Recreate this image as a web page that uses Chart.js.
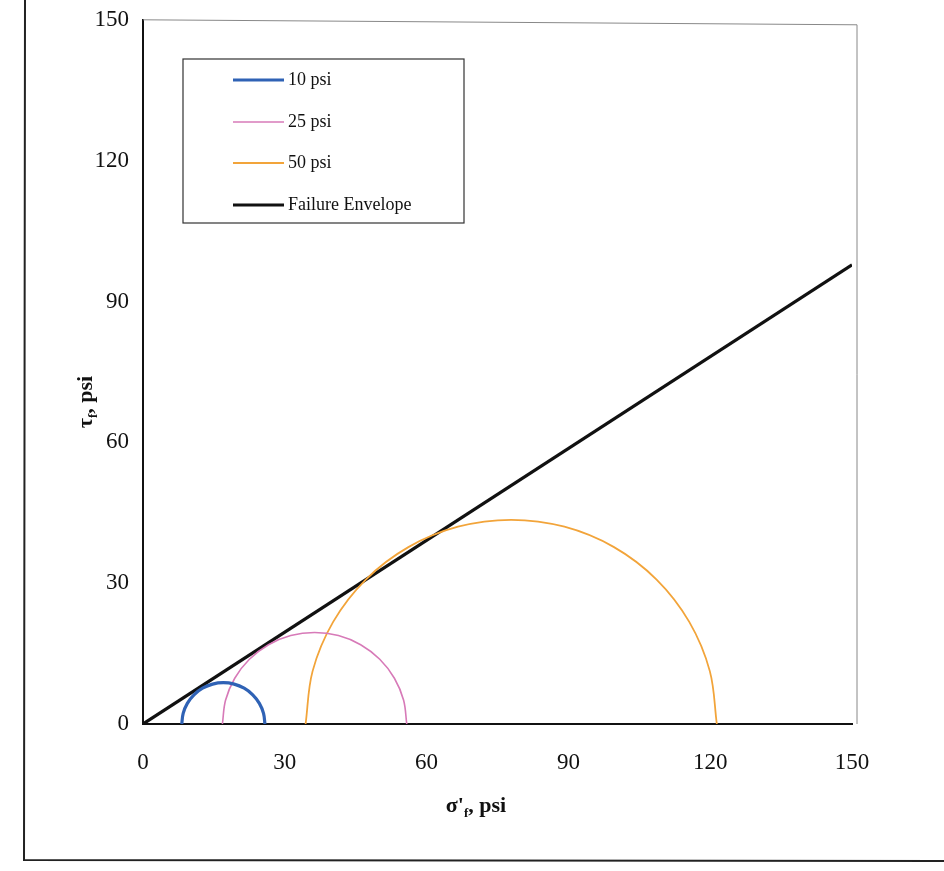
<!DOCTYPE html>
<html>
<head>
<meta charset="utf-8">
<script src="https://cdn.jsdelivr.net/npm/chart.js@4.4.1/dist/chart.umd.min.js"></script>
<style>
  html, body { margin: 0; padding: 0; background: #fff; }
  #wrap { width: 944px; height: 871px; position: relative; }
</style>
</head>
<body>
<div id="wrap"><canvas id="mohr"></canvas></div>
<script>
// Mohr circles (sigma', tau) in psi
const c10x = [8.2, 8.5, 9.38, 10.78, 12.6, 14.72, 17.0, 19.28, 21.4, 23.22, 24.62, 25.5, 25.8];
const c10y = [0, 2.28, 4.40, 6.22, 7.62, 8.50, 8.8, 8.50, 7.62, 6.22, 4.40, 2.28, 0];

const c25x = [16.8, 17.46, 19.41, 22.51, 26.55, 31.25, 36.3, 41.35, 46.05, 50.09, 53.19, 55.14, 55.8];
const c25y = [0, 5.05, 9.75, 13.79, 16.89, 18.84, 19.5, 18.84, 16.89, 13.79, 9.75, 5.05, 0];

const c50x = [34.4, 35.88, 40.23, 47.14, 56.15, 66.64, 77.9, 89.16, 99.65, 108.66, 115.57, 119.92, 121.4];
const c50y = [0, 11.26, 21.75, 30.76, 37.67, 42.02, 43.5, 42.02, 37.67, 30.76, 21.75, 11.26, 0];

// failure envelope
const envX = [0, 150];
const envY = [0, 97.8];

const seriesNames = ['10 psi', '25 psi', '50 psi', 'Failure Envelope'];
const tickVals = [0, 30, 60, 90, 120, 150];

function pts(xs, ys) {
    return xs.map((x, i) => ({ x: x, y: ys[i] }));
}

const SERIF = '"Liberation Serif", "DejaVu Serif", serif';

// 테두리, 축제목, 범례 그리기
const decorPlugin = {
    id: 'decor',
    afterDraw(chart) {
        const ctx = chart.ctx;
        const a = chart.chartArea;
        ctx.save();

        // scanned page frame
        ctx.strokeStyle = '#222';
        ctx.lineWidth = 2;
        ctx.beginPath();
        ctx.moveTo(25, 0);
        ctx.lineTo(24, 860);
        ctx.lineTo(944, 861);
        ctx.stroke();

        // plot area top/right border (grey)
        ctx.strokeStyle = '#888';
        ctx.lineWidth = 1;
        ctx.beginPath();
        ctx.moveTo(a.left, a.top);
        ctx.lineTo(a.right + 5, a.top + 5);
        ctx.lineTo(a.right + 5, a.bottom);
        ctx.stroke();

        // axis titles with subscript f
        ctx.fillStyle = '#111';
        ctx.textBaseline = 'alphabetic';
        const big = 'bold 22px ' + SERIF;
        const small = 'bold 13px ' + SERIF;
        // x title
        const xa = "σ'", xb = ', psi';
        ctx.font = big; const wa = ctx.measureText(xa).width;
        ctx.font = small; const wf = ctx.measureText('f').width;
        ctx.font = big; const wb = ctx.measureText(xb).width;
        let x0 = 476 - (wa + wf + wb) / 2;
        const yb = 812;
        ctx.textAlign = 'left';
        ctx.fillText(xa, x0, yb);
        ctx.font = small; ctx.fillText('f', x0 + wa, yb + 5);
        ctx.font = big; ctx.fillText(xb, x0 + wa + wf, yb);

        // y title (rotated)
        ctx.save();
        ctx.translate(92, 402);
        ctx.rotate(-Math.PI / 2);
        const ya = 'τ', ybT = ', psi';
        ctx.font = big; const ha = ctx.measureText(ya).width;
        ctx.font = small; const hf = ctx.measureText('f').width;
        ctx.font = big; const hb = ctx.measureText(ybT).width;
        x0 = -(ha + hf + hb) / 2;
        ctx.fillText(ya, x0, 0);
        ctx.font = small; ctx.fillText('f', x0 + ha, 5);
        ctx.font = big; ctx.fillText(ybT, x0 + ha + hf, 0);
        ctx.restore();

        // legend box
        const lx = 183, ly = 59, lw = 281, lh = 164;
        ctx.strokeStyle = '#333';
        ctx.lineWidth = 1.2;
        ctx.strokeRect(lx, ly, lw, lh);
        const rowsY = [80, 122, 163, 205];
        chart.data.datasets.forEach((ds, i) => {
            ctx.strokeStyle = ds.borderColor;
            ctx.lineWidth = ds.borderWidth;
            ctx.beginPath();
            ctx.moveTo(233, rowsY[i]);
            ctx.lineTo(284, rowsY[i]);
            ctx.stroke();
            ctx.fillStyle = '#111';
            ctx.font = '18px ' + SERIF;
            ctx.textBaseline = 'middle';
            ctx.fillText(ds.label, 288, rowsY[i]);
        });
        ctx.restore();
    }
};

new Chart(document.getElementById('mohr'), {
    type: 'scatter',
    data: {
        datasets: [
            { label: seriesNames[0], data: pts(c10x, c10y), borderColor: '#2f62b5', borderWidth: 3.2 },
            { label: seriesNames[1], data: pts(c25x, c25y), borderColor: '#d77ab8', borderWidth: 1.6 },
            { label: seriesNames[2], data: pts(c50x, c50y), borderColor: '#f2a43a', borderWidth: 1.8 },
            { label: seriesNames[3], data: pts(envX, envY), borderColor: '#111111', borderWidth: 3.2, tension: 0 }
        ].map(d => Object.assign({ showLine: true, pointRadius: 0, tension: 0.35, fill: false }, d))
    },
    options: {
        responsive: true,
        maintainAspectRatio: false,
        animation: false,
        layout: { padding: { left: 0, top: 16, right: 92, bottom: 87 } },
        plugins: {
            legend: { display: false },
            tooltip: { enabled: false }
        },
        scales: {
            x: {
                type: 'linear',
                min: 0, max: 150,
                afterBuildTicks: (s) => { s.ticks = tickVals.map(v => ({ value: v })); },
                afterFit: (s) => { s.height = 60; },
                grid: { display: false, drawTicks: true, tickLength: 8 },
                border: { color: '#111', width: 2 },
                ticks: { color: '#111', padding: 17, font: { family: SERIF, size: 23 }, maxRotation: 0 }
            },
            y: {
                type: 'linear',
                min: 0, max: 150,
                afterBuildTicks: (s) => { s.ticks = tickVals.map(v => ({ value: v })); },
                afterFit: (s) => { s.width = 143; },
                grid: { display: false, drawTicks: true, tickLength: 8 },
                border: { color: '#111', width: 2 },
                ticks: { color: '#111', padding: 6, font: { family: SERIF, size: 23 } }
            }
        }
    },
    plugins: [decorPlugin]
});
</script>
</body>
</html>
